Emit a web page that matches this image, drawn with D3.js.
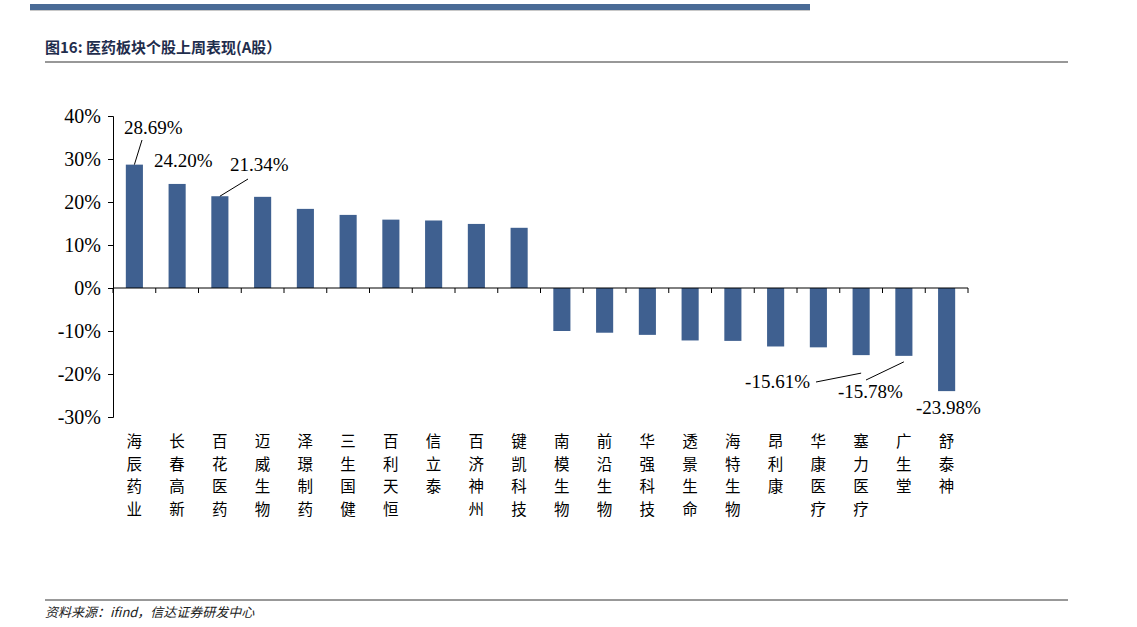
<!DOCTYPE html><html><head><meta charset="utf-8">
<script src="https://cdn.jsdelivr.net/npm/d3@7"></script>
<style>body{margin:0;background:#fff}</style></head><body>
<svg id="c" width="1137" height="627"></svg>
<script>
const categories=["海辰药业","长春高新","百花医药","迈威生物","泽璟制药","三生国健","百利天恒","信立泰","百济神州","键凯科技","南模生物","前沿生物","华强科技","透景生命","海特生物","昂利康","华康医疗","塞力医疗","广生堂","舒泰神"];
const values=[28.69,24.20,21.34,21.2,18.4,17.0,15.9,15.7,14.9,14.0,-10.0,-10.4,-10.9,-12.2,-12.3,-13.6,-13.8,-15.61,-15.78,-23.98];
const yTicks=[40,30,20,10,0,-10,-20,-30];
const labeled=[{i:0,tx:124,ty:134,anchor:"start"},{i:1,tx:154,ty:167,anchor:"start",noline:true},{i:2,tx:230,ty:171,anchor:"start"},{i:17,tx:810,ty:388,anchor:"end"},{i:18,tx:838,ty:398,anchor:"start"},{i:19,tx:916,ty:414,anchor:"start",noline:true}];
const svg=d3.select("#c");
const navy="#3f6090";
svg.append("rect").attr("x",30).attr("y",4).attr("width",780).attr("height",6).attr("fill","#4a6b96");
svg.append("rect").attr("x",30).attr("y",10).attr("width",780).attr("height",1).attr("fill","#c8c8c8");
svg.append("text").attr("x",45).attr("y",53).attr("font-family","Noto Sans CJK SC").attr("font-weight","bold").attr("font-size",15).attr("fill","#1f2d4d").text("图16: 医药板块个股上周表现(A股）");
svg.append("line").attr("x1",45).attr("x2",1068).attr("y1",62).attr("y2",62).attr("stroke","#333").attr("stroke-width",1.2);
svg.append("line").attr("x1",45).attr("x2",1068).attr("y1",600).attr("y2",600).attr("stroke","#333").attr("stroke-width",1);
svg.append("text").attr("x",45).attr("y",617).attr("font-family","Noto Sans CJK SC").attr("font-style","italic").attr("font-size",13).attr("fill","#222").text("资料来源：ifind，信达证券研发中心");
const y=d3.scaleLinear().domain([-30,40]).range([417,116]);
const x=d3.scaleBand().domain(d3.range(20)).range([113,968]).paddingInner(0.6).paddingOuter(0.3);
const g=svg.append("g");
g.append("g").attr("transform","translate(113,0)").call(d3.axisLeft(y).tickValues(yTicks).tickSize(5).tickFormat(d=>d+"%"))
 .call(a=>{a.selectAll("text").attr("font-family","Liberation Serif").attr("font-size",20).attr("fill","#000").attr("dx",-4);a.selectAll("line,path").attr("stroke","#000");});
g.selectAll(".b").data(values).join("rect").attr("x",(d,i)=>x(i)).attr("width",x.bandwidth()).attr("y",d=>y(Math.max(0,d))).attr("height",d=>Math.abs(y(d)-y(0))).attr("fill",navy);
g.append("line").attr("x1",113).attr("x2",968).attr("y1",y(0)).attr("y2",y(0)).attr("stroke","#000");
d3.range(21).forEach(k=>{const xx=113+k*(855/20);g.append("line").attr("x1",xx).attr("x2",xx).attr("y1",y(0)).attr("y2",y(0)+5).attr("stroke","#000");});
categories.forEach((c,i)=>{[...c].forEach((ch,k)=>g.append("text").attr("font-family","Noto Sans CJK SC").attr("font-size",15.5).attr("text-anchor","middle").attr("x",x(i)+x.bandwidth()/2).attr("y",447+k*22.5).text(ch));});
labeled.forEach(l=>{const v=values[l.i];const cx=x(l.i)+x.bandwidth()/2;
 g.append("text").attr("x",l.tx).attr("y",l.ty).attr("text-anchor",l.anchor).attr("font-family","Liberation Serif").attr("font-size",19).text(v.toFixed(2)+"%");
 if(!l.noline){
  if(l.i==0){g.append("line").attr("x1",cx).attr("y1",y(v)).attr("x2",l.tx+18).attr("y2",l.ty+6).attr("stroke","#000");}
  else if(l.i==2){g.append("line").attr("x1",cx).attr("y1",y(v)).attr("x2",l.tx+18).attr("y2",l.ty+8).attr("stroke","#000");}
  else if(l.i==17){g.append("line").attr("x1",cx).attr("y1",y(v)+18).attr("x2",l.tx+6).attr("y2",l.ty-6).attr("stroke","#000");}
  else if(l.i==18){g.append("line").attr("x1",cx).attr("y1",y(v)+6).attr("x2",l.tx+28).attr("y2",l.ty-18).attr("stroke","#000");}
 }});
</script></body></html>
